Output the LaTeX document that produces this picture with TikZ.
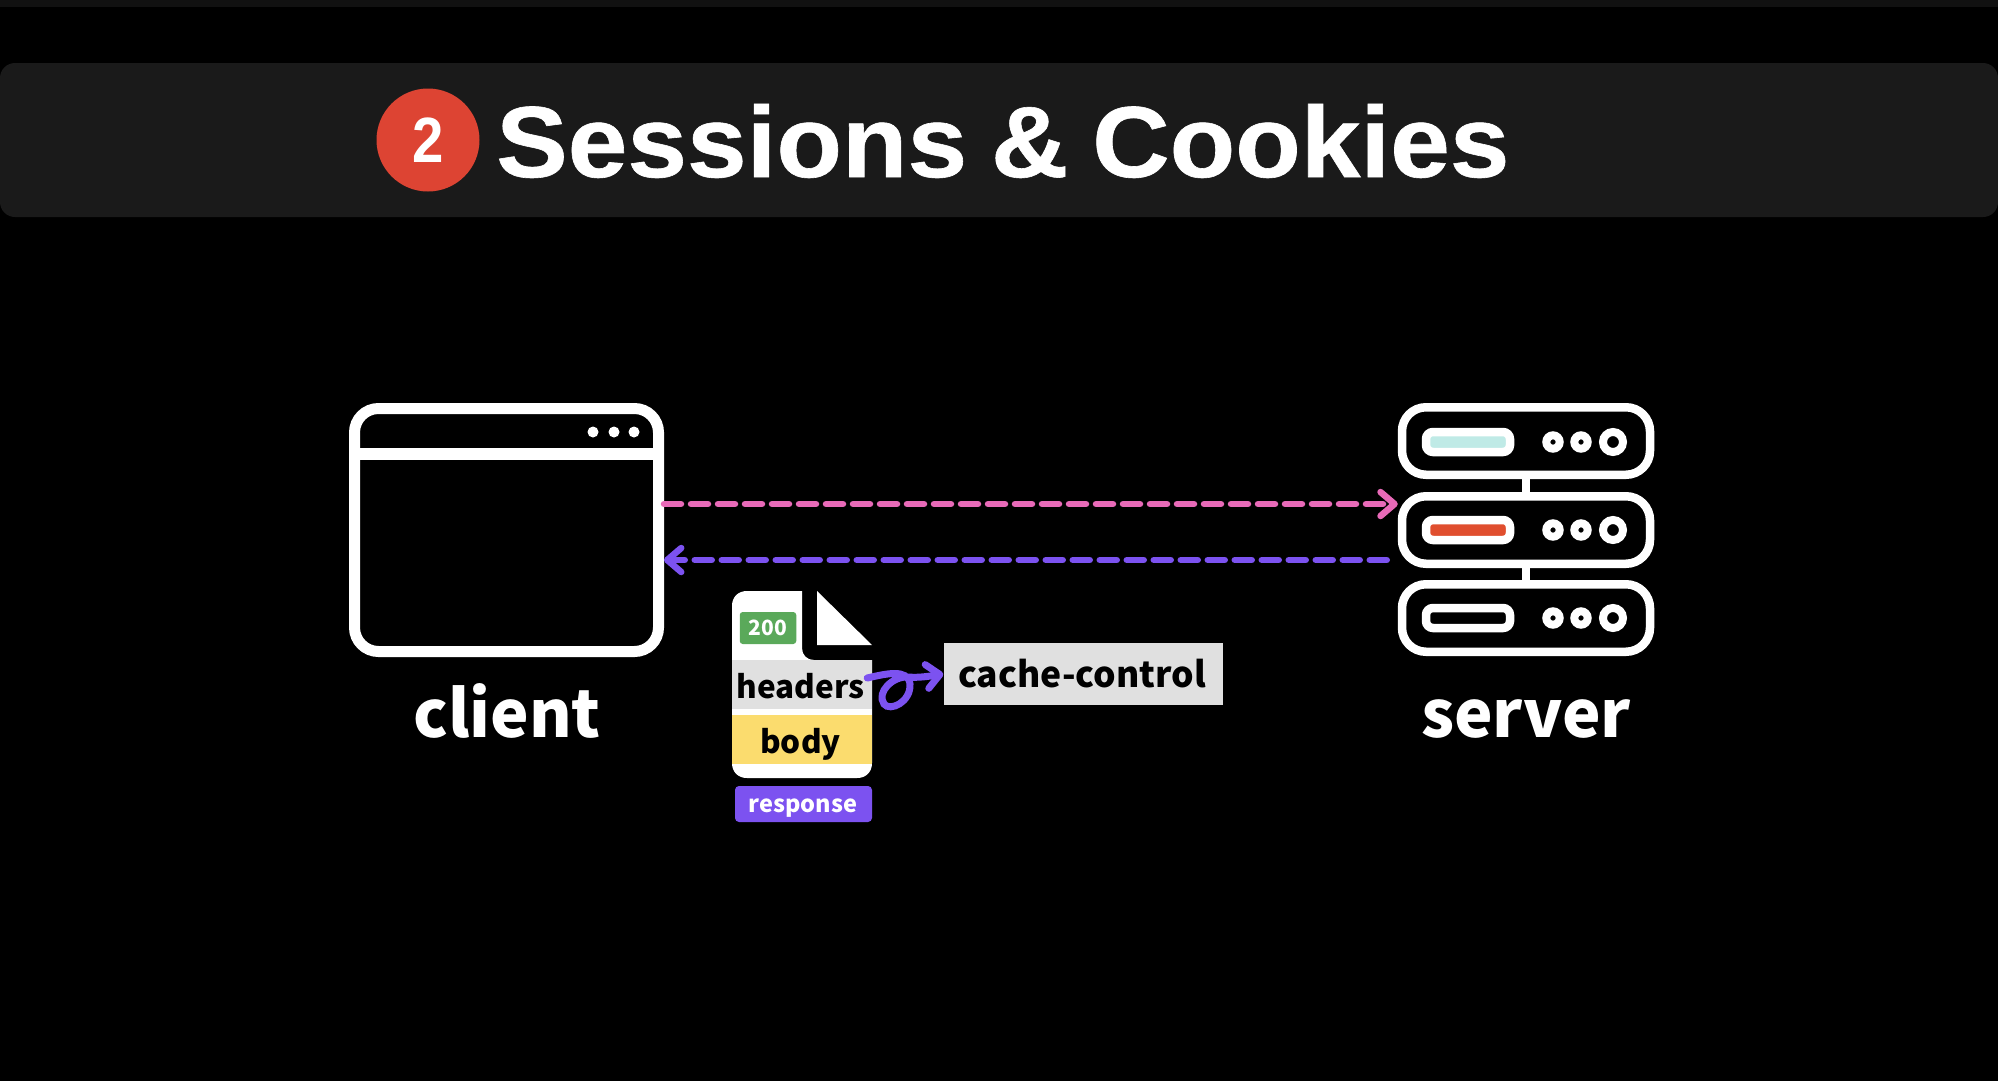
\documentclass[tikz,border=0pt]{standalone}
\usepackage{fontspec}
\usetikzlibrary{arrows.meta,calc}
\newfontfamily\lblfont{Noto Sans CJK SC}
\newfontfamily\titlefont[FakeStretch=1.062,BoldFeatures={FakeBold=0.6},WordSpace=0.8]{Liberation Sans}
\newfontfamily\badgefont[FakeStretch=0.88]{Liberation Sans}
\definecolor{bandcol}{HTML}{1A1A1A}
\definecolor{stripcol}{HTML}{111111}
\definecolor{redcol}{HTML}{DD4433}
\definecolor{pinkcol}{HTML}{E86AB8}
\definecolor{purplecol}{HTML}{7C52F0}
\definecolor{greencol}{HTML}{5AA95A}
\definecolor{graycol}{HTML}{E0E0E0}
\definecolor{yellowcol}{HTML}{FBDC6E}
\definecolor{tealcol}{HTML}{BFEAE6}
\definecolor{srvred}{HTML}{E04E2E}
\newcommand{\fs}[1]{\lblfont\bfseries\fontsize{#1}{#1}\selectfont}
\tikzset{
  srvbox/.style={draw=white,line width=8.5pt,rounded corners=24pt,minimum width=248pt,minimum height=67.5pt,inner sep=0pt},
  pillbox/.style={draw=white,line width=8.5pt,rounded corners=7pt,minimum width=84pt,minimum height=20pt,inner sep=0pt},
  smalldot/.style={circle,draw=white,fill=black,line width=8pt,minimum size=13.4pt,inner sep=0pt},
  largedot/.style={circle,draw=white,fill=black,line width=8pt,minimum size=20pt,inner sep=0pt},
  windot/.style={circle,fill=white,minimum size=11pt,inner sep=0pt},
  biglabel/.style={text=white,anchor=base,inner sep=0pt,font=\fs{65}},
  tagbox/.style={inner sep=0pt,align=center},
  dashedlink/.style={line width=6.5pt,line cap=round,dash pattern=on 17pt off 10pt}
}
\begin{document}
\begin{tikzpicture}[x=1pt,y=-1pt]
\useasboundingbox (0,0) rectangle (1998,1080);
\fill[black] (-3,-3) rectangle (2001,1083);
\fill[stripcol] (-3,-3) rectangle (2001,7);
\fill[bandcol,rounded corners=15pt] (0,63) rectangle (1998,217);
\node[circle,fill=redcol,minimum size=103pt,inner sep=0pt,text=white,font=\badgefont\bfseries\fontsize{64}{64}\selectfont] (badge) at (428,140) {2};
\node[anchor=base west,inner sep=0pt,text=white,font=\titlefont\bfseries\fontsize{101}{101}\selectfont] (title) at (496,177) {Sessions \& Cookies};
% client
\node[draw=white,line width=11pt,rounded corners=24pt,minimum width=304pt,minimum height=243pt,inner sep=0pt] (clientbox) at (506.5,530) {};
\draw[white,line width=12pt] (354.5,454) -- (658.5,454);
\node[windot] (wd1) at (593,432) {};
\node[windot] (wd2) at (614,432) {};
\node[windot] (wd3) at (634,432) {};
\node[biglabel] (clientlabel) at (507,737) {client};
% server
\node[srvbox] (srv1) at (1526,441) {};
\node[srvbox] (srv2) at (1526,530) {};
\node[srvbox] (srv3) at (1526,618) {};
\draw[white,line width=8pt] (srv1.south) -- (srv2.north);
\draw[white,line width=8pt] (srv2.south) -- (srv3.north);
\node[pillbox,fill=tealcol] (pill1) at (1468,442) {};
\node[pillbox,fill=srvred] (pill2) at (1468,530) {};
\node[pillbox,fill=black] (pill3) at (1468,618) {};
\foreach \yy/\nm in {442/a,530/b,618/c}{
  \node[smalldot] (d1\nm) at (1553,\yy) {};
  \node[smalldot] (d2\nm) at (1581,\yy) {};
  \node[largedot] (d3\nm) at (1613,\yy) {};
}
\node[biglabel] (serverlabel) at (1526,737) {server};
% connectors
\draw[pinkcol,dashedlink,-{Straight Barb[length=14pt,width=24pt,line width=6.5pt,round]}] ([yshift=26pt]clientbox.east) -- ([yshift=26pt]srv2.west);
\draw[purplecol,dashedlink,-{Straight Barb[length=14pt,width=24pt,line width=6.5pt,round]}] ([xshift=-11pt,yshift=-30pt]srv2.west) -- ([yshift=-30pt]clientbox.east);
% document
\fill[white] (732,606) .. controls (732,597) and (738,591) .. (747,591) -- (802,591) -- (802,648) .. controls (802,655) and (807,660) .. (814,660) -- (872,660) -- (872,763) .. controls (872,772) and (866,778) .. (857,778) -- (747,778) .. controls (738,778) and (732,772) .. (732,763) -- cycle;
\fill[white] (817,591) -- (872,645) -- (817,645) -- cycle;
\node[tagbox,fill=greencol,rounded corners=3pt,text=white,minimum width=56.5pt,text height=23pt,text depth=9pt,font=\fs{21}] (status) at (768,628) {200};
\node[tagbox,fill=graycol,text=black,minimum width=140pt,text height=38pt,text depth=11pt,font=\fs{31.5}] (hdr) at (802,684.5) {\hspace{-3pt}headers};
\node[tagbox,fill=yellowcol,text=black,minimum width=140pt,text height=38pt,text depth=11pt,font=\fs{31.5}] (bdy) at (802,739.5) {\hspace{-3pt}body};
\node[tagbox,fill=purplecol,rounded corners=4pt,text=white,minimum width=137pt,text height=26pt,text depth=10pt,font=\fs{23.5}] (resp) at (803.5,804) {\hspace{-1pt}response};
\node[tagbox,fill=graycol,text=black,minimum width=279pt,text height=44pt,text depth=18pt,font=\fs{35.5}] (cache) at (1083,674) {\hspace{-2pt}cache-control};
\draw[purplecol,line width=7pt,line cap=round,-{Straight Barb[length=13pt,width=24pt,line width=7pt,round]}]
  ([xshift=-5pt,yshift=6.5pt]hdr.east) .. controls (885,674) and (908,668) .. (910,684)
  .. controls (911,702) and (890,712) .. (884,704)
  .. controls (876,692) and (893,676) .. (908,677)
  .. controls (920,678) and (930,676) .. (cache.west);
\end{tikzpicture}
\end{document}
